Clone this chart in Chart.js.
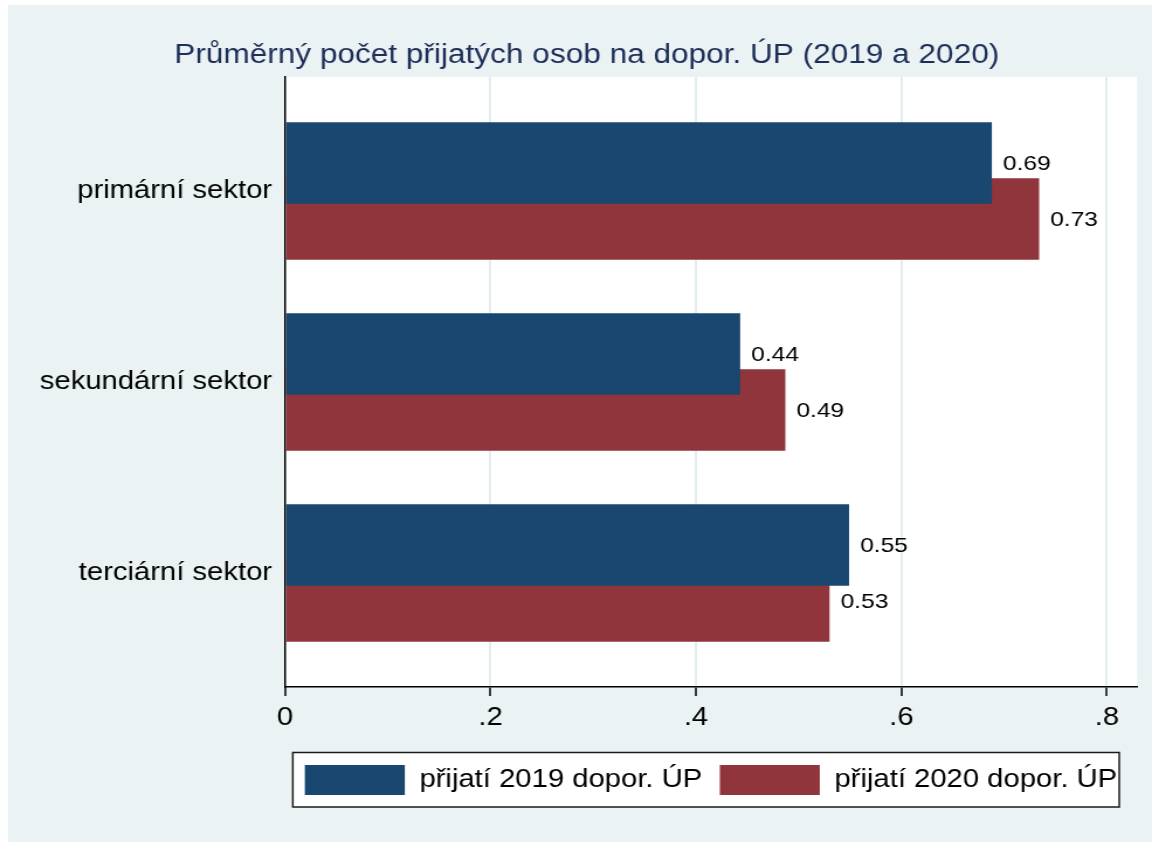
<!DOCTYPE html>
<html>
<head>
<meta charset="utf-8">
<title>Průměrný počet přijatých osob na dopor. ÚP</title>
<script src="https://cdn.jsdelivr.net/npm/chart.js@4"></script>
<style>
  body { margin: 0; background: #fff; }
  #chart { display: block; transform: scaleX(1.16954); transform-origin: 0 0; }
</style>
</head>
<body>
<canvas id="chart" width="985" height="842"></canvas>
<script>
const sectors = ['primární sektor', 'sekundární sektor', 'terciární sektor'];
const hired2019 = [0.688, 0.443, 0.549];
const hired2020 = [0.734, 0.487, 0.530];
const seriesNames = ['přijatí 2019 dopor. ÚP', 'přijatí 2020 dopor. ÚP'];
const xTickValues = [0, 0.2, 0.4, 0.6, 0.8];
const xTickLabels = ['0', '.2', '.4', '.6', '.8'];

const font = '"Liberation Sans", Arial, Helvetica, sans-serif';
const stretch = 1.16954; // the original graph is stretched sideways, so the canvas is stretched by css
const barShift = 0.1466; // the two bars of one sector overlap a bit

const toPoints = (values, shift) => values.map((v, i) => ({ x: v, y: i + 1 + shift }));

// page background, white plot region and the framed legend
const background = {
  id: 'background',
  beforeDraw(chart) {
    const { ctx, width, height, chartArea } = chart;
    ctx.save();
    ctx.fillStyle = '#fff';
    ctx.fillRect(0, 0, width, height);
    ctx.fillStyle = '#eaf2f3';
    ctx.fillRect(8 / stretch, 5, width, height - 5);
    ctx.fillStyle = '#fff';
    ctx.fillRect(chartArea.left, chartArea.top, chartArea.width, chartArea.height);

    const boxes = chart.legend.legendHitBoxes;
    if (boxes && boxes.length) {
      const first = boxes[0];
      const last = boxes[boxes.length - 1];
      const left = first.left - 12 / stretch;
      const right = last.left + last.width + 2 / stretch;
      const top = first.top - 12.5;
      const bottom = first.top + first.height + 12;
      ctx.fillStyle = '#fff';
      ctx.fillRect(left, top, right - left, bottom - top);
      ctx.strokeStyle = '#1a1a1a';
      ctx.lineWidth = 1.5;
      ctx.strokeRect(left, top, right - left, bottom - top);
    }
    ctx.restore();
  }
};

// numbers printed right of each bar
const valueLabels = {
  id: 'valueLabels',
  afterDatasetsDraw(chart) {
    const { ctx } = chart;
    ctx.save();
    ctx.font = '21px ' + font;
    ctx.fillStyle = '#000';
    ctx.textAlign = 'left';
    ctx.textBaseline = 'middle';
    chart.data.datasets.forEach((ds, i) => {
      chart.getDatasetMeta(i).data.forEach((bar, j) => {
        ctx.fillText(ds.data[j].x.toFixed(2), bar.x + 11 / stretch, bar.y + 1);
      });
    });
    ctx.restore();
  }
};

const ctx = document.getElementById('chart').getContext('2d');
new Chart(ctx, {
  type: 'bar',
  data: {
    datasets: [
      {
        label: seriesNames[0],
        data: toPoints(hired2019, -barShift),
        backgroundColor: '#1a476f',
        borderWidth: 0
      },
      {
        label: seriesNames[1],
        data: toPoints(hired2020, barShift),
        backgroundColor: '#90353b',
        borderWidth: 0
      }
    ]
  },
  options: {
    indexAxis: 'y',
    responsive: false,
    animation: false,
    devicePixelRatio: 1,
    grouped: false,
    categoryPercentage: 1,
    barPercentage: 1.455,
    layout: {
      padding: { left: 31.2, right: 12.8, top: 0, bottom: 37 }
    },
    scales: {
      x: {
        type: 'linear',
        min: 0,
        max: 0.8293,
        afterBuildTicks: (scale) => {
          scale.ticks = xTickValues.map(v => ({ value: v }));
        },
        afterFit: (scale) => {
          scale.height = 63;
        },
        grid: {
          color: (c) => (c.tick && c.tick.value === 0) ? 'rgba(0,0,0,0)' : '#e3ecef',
          lineWidth: 2,
          tickColor: '#000',
          tickLength: 9,
          tickWidth: 1.5
        },
        border: { color: '#000', width: 1.5 },
        ticks: {
          autoSkip: false,
          maxRotation: 0,
          padding: 7,
          color: '#000',
          font: { family: font, size: 25 },
          callback: (v, i) => xTickLabels[i]
        }
      },
      y: {
        type: 'linear',
        reverse: true,
        offset: false,
        min: 0.403,
        max: 3.597,
        afterBuildTicks: (scale) => {
          scale.ticks = sectors.map((s, i) => ({ value: i + 1 }));
        },
        afterFit: (scale) => {
          scale.width = 212.5;
        },
        grid: { display: false, drawTicks: false, tickLength: 0, offset: false },
        border: { color: '#000', width: 1.5 },
        ticks: {
          autoSkip: false,
          padding: 11,
          color: '#000',
          font: { family: font, size: 25 },
          callback: (v, i) => sectors[i]
        }
      }
    },
    plugins: {
      title: {
        display: true,
        text: 'Průměrný počet přijatých osob na dopor. ÚP (2019 a 2020)',
        color: '#1d2e58',
        font: { family: font, size: 27, weight: 'normal' },
        padding: { top: 39.8, bottom: 4.8 }
      },
      legend: {
        position: 'bottom',
        fullSize: false,
        labels: {
          boxWidth: 100 / stretch,
          boxHeight: 30,
          padding: 15,
          color: '#000',
          font: { family: font, size: 25 }
        }
      },
      tooltip: { enabled: false }
    }
  },
  plugins: [background, valueLabels]
});
</script>
</body>
</html>
